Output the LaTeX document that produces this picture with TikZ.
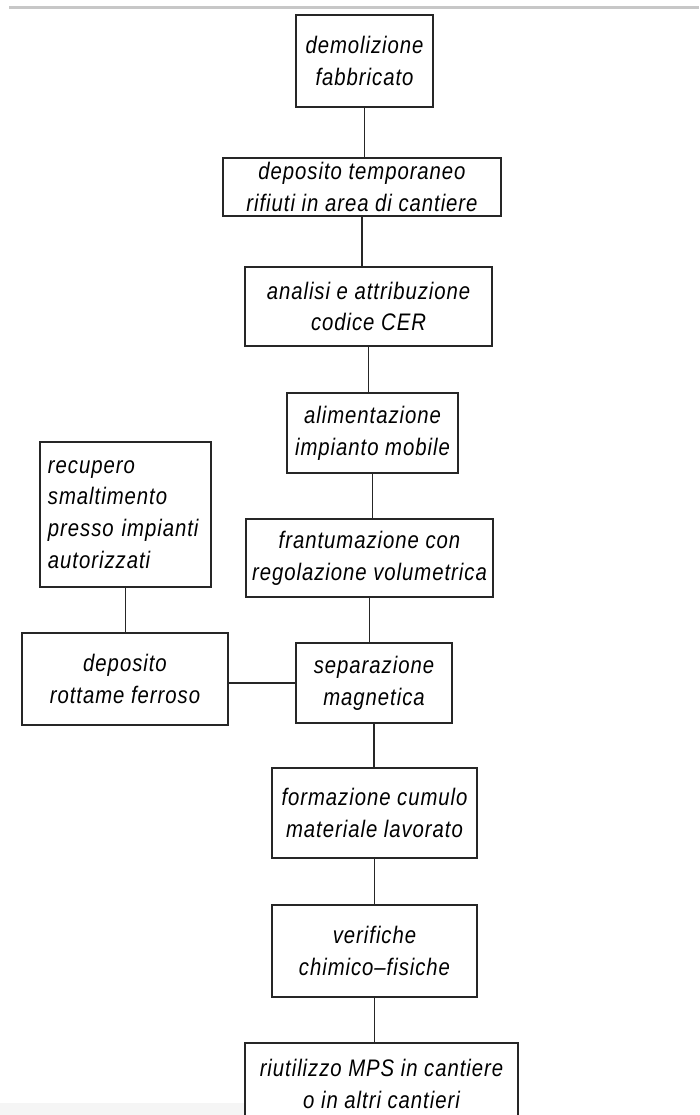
\documentclass[tikz,border=0pt]{standalone}
\usepackage{fontspec}
\setmainfont{Liberation Sans}[LetterSpace=4,FakeStretch=0.85]
\begin{document}
\begin{tikzpicture}[x=0.025cm,y=-0.025cm,
        box/.style={draw=black!85,line width=1.5pt,align=center,inner sep=0pt,
            font=\fontsize{17}{22.5}\selectfont\itshape},
        link/.style={draw=black!85,line width=1.25pt}]
        % Page frame
        \useasboundingbox (0,0) rectangle (699,1115);
        \clip (0,0) rectangle (699,1115);
        \fill[black!4] (0,1103) rectangle (245,1115);
        \draw[black!22,line width=2.5pt] (9,7.5) -- (699,7.5);

        % Define nodes
        \node[box,minimum width=3.425cm,minimum height=2.3cm] (A) at (364.5,61) {demolizione\\fabbricato};
        \node[box,minimum width=6.95cm,minimum height=1.45cm] (B) at (362,187) {deposito temporaneo\\rifiuti in area di cantiere};
        \node[box,minimum width=6.175cm,minimum height=1.975cm] (C) at (368.5,306.5) {analisi e attribuzione\\codice CER};
        \node[box,minimum width=4.275cm,minimum height=2cm] (D) at (372.5,433) {alimentazione\\impianto mobile};
        \node[box,minimum width=6.175cm,minimum height=1.95cm] (E) at (369.5,558) {frantumazione con\\regolazione volumetrica};
        \node[box,minimum width=3.9cm,minimum height=2cm] (F) at (374,683) {separazione\\magnetica};
        \node[box,minimum width=5.125cm,minimum height=2.25cm] (G) at (374.5,813) {formazione cumulo\\materiale lavorato};
        \node[box,minimum width=5.125cm,minimum height=2.3cm] (H) at (374.5,951) {verifiche\\chimico–fisiche};
        \node[box,minimum width=6.825cm,minimum height=2.05cm] (I) at (381.5,1084) {riutilizzo MPS in cantiere\\o in altri cantieri};
        \node[box,minimum width=5.15cm,minimum height=2.3cm] (J) at (125,679) {deposito\\rottame ferroso};
        \node[box,minimum width=4.275cm,minimum height=3.625cm,align=left,text width=3.875cm] (K) at (125.5,514.5) {recupero\\smaltimento\\presso impianti\\autorizzati};

        % Draw edges
        \draw[link] (A.south) -- (A.south |- B.north);
        \draw[link] (B.south) -- (B.south |- C.north);
        \draw[link] (C.south) -- (C.south |- D.north);
        \draw[link] (D.south) -- (D.south |- E.north);
        \draw[link] (E.south) -- (E.south |- F.north);
        \draw[link] (F.south) -- (F.south |- G.north);
        \draw[link] (G.south) -- (G.south |- H.north);
        \draw[link] (H.south) -- (H.south |- I.north);
        \draw[link] (K.south) -- (K.south |- J.north);
        \draw[link] (F.west) -- (F.west -| J.east);
    \end{tikzpicture}
\end{document}
